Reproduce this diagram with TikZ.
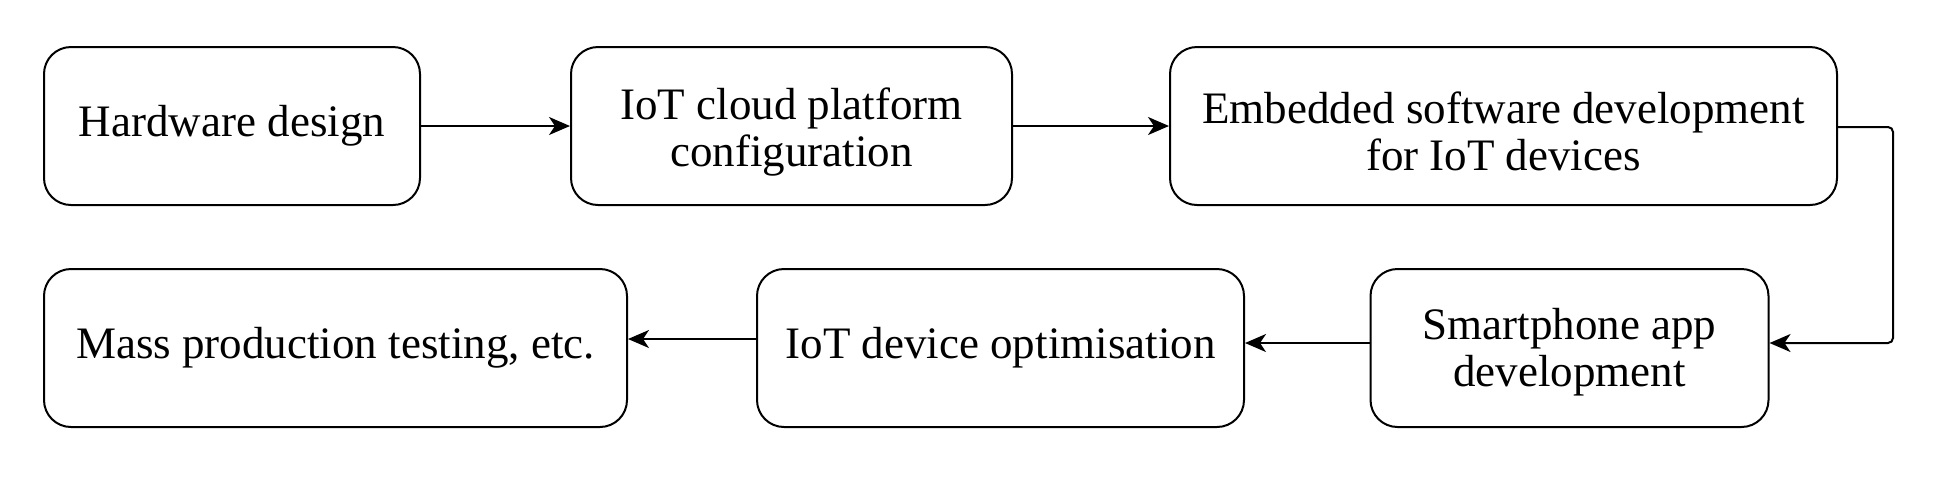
\documentclass[tikz,border=0pt]{standalone}
\usepackage{fontspec}
\setmainfont{Liberation Serif}
\usetikzlibrary{arrows.meta,calc}
\begin{document}
\begin{tikzpicture}[x=0.5pt,y=-0.5pt,
  stepbox/.style={draw=black,line width=1pt,rounded corners=13.5pt,rectangle,
    inner sep=0pt,align=center,font=\fontsize{22.5pt}{23.5pt}\selectfont,fill=white},
  flow/.style={draw=black,line width=1pt,-{Stealth[length=10.5pt,width=9pt,inset=3pt]}}]
\useasboundingbox (0,0) rectangle (1936,489);
\node[stepbox,minimum width=188pt,minimum height=79pt] (hw) at (232,126) {Hardware design};
\node[stepbox,minimum width=220.5pt,minimum height=79pt] (cloud) at (791.5,126) {\rule{0pt}{21.5pt}IoT cloud platform\\configuration};
\node[stepbox,minimum width=333.5pt,minimum height=79pt] (emb) at (1503.5,126) {\rule{0pt}{21.5pt}Embedded software development\\for IoT devices};
\node[stepbox,minimum width=199pt,minimum height=79pt] (app) at (1569.5,348) {\rule{0pt}{19.5pt}Smartphone app\\development};
\node[stepbox,minimum width=243.5pt,minimum height=79pt] (opt) at (1000.5,348) {IoT device optimisation};
\node[stepbox,minimum width=291.5pt,minimum height=79pt] (mass) at (335.5,348) {Mass production testing, etc.};
\coordinate (bend) at (1893,0);
\draw[flow] (hw.east) -- (cloud.west);
\draw[flow] (cloud.east) -- (emb.west);
\draw[flow,rounded corners=2.5pt] ($(emb.east)+(0,1)$) -| ($(bend)+(0,343)$) -- ($(app.east)+(0,-5)$);
\draw[flow] ($(app.west)+(0,-5)$) -- ($(opt.east)+(0,-5)$);
\draw[flow] ($(opt.west)+(0,-9)$) -- ($(mass.east)+(0,-9)$);
\end{tikzpicture}
\end{document}
